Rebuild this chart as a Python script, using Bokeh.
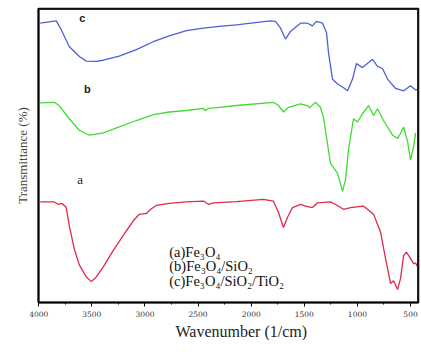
from bokeh.plotting import figure
from bokeh.models import Range1d, FixedTicker, Label, Title, Span
from bokeh.embed import file_html
from bokeh.resources import INLINE

# Curve c: Fe3O4/SiO2/TiO2 (blue)
wn_c = [3986, 3835, 3788, 3713, 3618, 3552, 3458, 3392, 3242, 3081, 2921, 2771, 2610, 2450,
        2299, 2139, 1819, 1772, 1725, 1677, 1630, 1536, 1470, 1423, 1386, 1329, 1291, 1272,
        1235, 1188, 1140, 1093, 1046, 1009, 952, 858, 811, 764, 716, 641, 565, 500, 452, 425]
t_c = [95.0, 95.8, 92.8, 87.1, 83.7, 82.1, 82.0, 82.4, 83.8, 86.0, 88.7, 90.7, 92.5, 93.3,
       93.9, 94.4, 95.8, 95.6, 93.4, 89.6, 92.2, 95.0, 95.0, 94.1, 95.6, 95.0, 91.8, 85.0,
       76.0, 74.3, 73.3, 72.0, 76.0, 81.3, 79.9, 82.7, 80.3, 79.6, 76.0, 72.8, 72.0, 73.7, 72.3, 72.6]

# Curve b: Fe3O4/SiO2 (green)
wn_b = [3986, 3854, 3807, 3713, 3618, 3524, 3392, 3242, 3081, 2921, 2771, 2610, 2450, 2431,
        2403, 2299, 2139, 1791, 1743, 1696, 1649, 1536, 1470, 1451, 1395, 1348, 1320, 1282,
        1254, 1188, 1140, 1112, 1084, 1037, 999, 952, 895, 848, 811, 754, 669, 622, 594, 565,
        528, 500, 471, 452]
t_b = [67.9, 68.1, 67.0, 62.5, 58.6, 56.9, 57.7, 59.7, 61.9, 63.9, 64.8, 65.3, 66.0, 65.3,
       66.0, 66.4, 67.0, 68.1, 67.0, 64.8, 66.4, 67.6, 67.0, 66.2, 68.1, 66.4, 63.1, 54.1,
       47.4, 44.0, 37.9, 41.8, 51.9, 62.5, 61.4, 64.2, 67.0, 63.6, 65.9, 61.9, 56.9, 55.8, 57.5, 59.7,
       54.7, 48.5, 53.0, 57.7]

# Curve a: Fe3O4 (red)
wn_a = [3986, 3854, 3816, 3779, 3741, 3713, 3666, 3618, 3552, 3505, 3458, 3392, 3298, 3204,
        3110, 3053, 2987, 2940, 2893, 2771, 2610, 2450, 2403, 2356, 2139, 1885, 1791, 1743,
        1696, 1659, 1611, 1536, 1489, 1423, 1376, 1254, 1188, 1131, 1065, 943, 848, 782, 735,
        688, 660, 622, 594, 565, 537, 500, 471, 452, 433]
t_a = [34.2, 34.2, 33.4, 33.7, 32.3, 26.2, 18.3, 12.8, 8.7, 7.1, 8.7, 12.1, 17.7, 22.8,
       27.8, 30.0, 30.3, 31.9, 33.0, 33.7, 34.2, 34.5, 33.4, 33.9, 34.3, 35.1, 34.5, 30.6,
       25.5, 28.9, 32.3, 33.4, 32.8, 32.3, 33.9, 34.2, 33.0, 31.7, 32.3, 32.8, 30.0, 23.9, 14.9,
       6.5, 7.4, 4.4, 8.2, 16.0, 17.1, 14.9, 13.2, 13.4, 12.1]

tick_vals = [4000, 3500, 3000, 2500, 2000, 1500, 1000, 500]
minor_vals = [3750, 3250, 2750, 2250, 1750, 1250, 750]

curve_tags = ["c", "b", "a"]
legend_lines = ["(a)Fe\u2083O\u2084", "(b)Fe\u2083O\u2084/SiO\u2082", "(c)Fe\u2083O\u2084/SiO\u2082/TiO\u2082"]
x_title = "Wavenumber (1/cm)"
y_title = "Transmittance (%)"

X_START, X_END = 4002, 425
Y_START, Y_END = 0, 100

p = figure(width=420, height=340, output_backend="svg", toolbar_location=None,
           x_range=Range1d(X_START, X_END), y_range=Range1d(Y_START, Y_END),
           min_border_left=38, min_border_right=2, min_border_top=8, min_border_bottom=30)
p.xgrid.visible = False
p.ygrid.visible = False
p.outline_line_color = "black"
p.outline_line_width = 1.5
p.background_fill_color = "white"
p.border_fill_color = "white"

xa = p.xaxis[0]
xa.ticker = FixedTicker(ticks=tick_vals, minor_ticks=minor_vals)
xa.axis_line_width = 2
xa.axis_line_color = "black"
xa.major_tick_out = 4
xa.major_tick_in = 0
xa.minor_tick_out = 2
xa.minor_tick_in = 0
xa.major_label_text_font = "DejaVu Serif"
xa.major_label_text_font_size = "7.5px"
xa.major_label_text_color = "#333333"
xa.major_label_standoff = 4

ya = p.yaxis[0]
ya.ticker = FixedTicker(ticks=[])
ya.axis_line_width = 2
ya.axis_line_color = "black"
ya.major_tick_out = 0
ya.minor_tick_out = 0
ya.major_label_text_font_size = "0px"
ya.major_label_standoff = 0
ya.axis_label = y_title
ya.axis_label_text_font = "Liberation Serif"
ya.axis_label_text_font_style = "normal"
ya.axis_label_text_font_size = "13px"
ya.axis_label_text_color = "#444444"
ya.axis_label_standoff = 9

# top and right frame edges
p.add_layout(Span(location=Y_END, dimension="width", line_color="#222222", line_width=3))
p.add_layout(Span(location=X_END, dimension="height", line_color="#222222", line_width=3))

p.add_layout(Title(text=x_title, text_font="Liberation Serif", text_font_style="normal",
                   text_font_size="16px", text_color="#222222", align="left", offset=137,
                   standoff=2), "below")

p.line(wn_c, t_c, line_color="#4f5fd6", line_width=1.3)
p.line(wn_b, t_b, line_color="#3fdc2f", line_width=1.3)
p.line(wn_a, t_a, line_color="#e02a48", line_width=1.3)

p.add_layout(Label(x=3590, y=96.8, text=curve_tags[0], text_font="Liberation Sans",
                   text_font_style="bold", text_font_size="11px", text_align="center",
                   text_baseline="middle", text_color="#222222"))
p.add_layout(Label(x=3543, y=72.6, text=curve_tags[1], text_font="Liberation Sans",
                   text_font_style="bold", text_font_size="11px", text_align="center",
                   text_baseline="middle", text_color="#222222"))
p.add_layout(Label(x=3609, y=42.0, text=curve_tags[2], text_font="Liberation Serif",
                   text_font_size="13px", text_align="center",
                   text_baseline="middle", text_color="#222222"))

for txt, yy in zip(legend_lines, [17.1, 12.4, 7.4]):
    p.add_layout(Label(x=2771, y=yy, text=txt, text_font="Liberation Serif",
                       text_font_size="14.5px", text_align="left",
                       text_baseline="middle", text_color="#111111"))

open("out.html", "w").write(file_html(p, INLINE))
